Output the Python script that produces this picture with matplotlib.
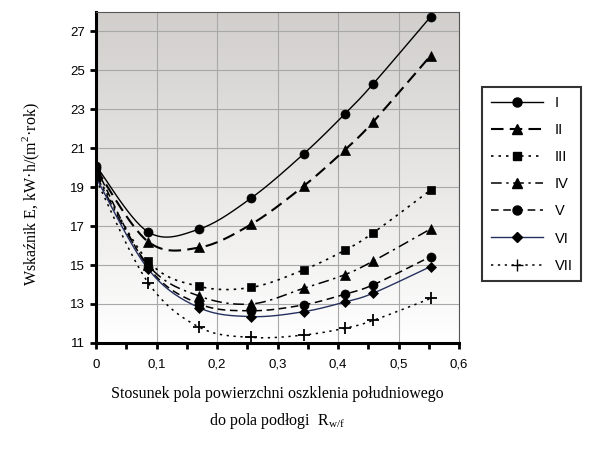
import numpy as np
import matplotlib
matplotlib.use("Agg")
import matplotlib.pyplot as plt
from matplotlib.lines import Line2D
from matplotlib.ticker import FixedLocator

# ratio of south glazing area to floor area
rwf = [0.0, 0.086, 0.171, 0.257, 0.343, 0.411, 0.458, 0.553]

labels = ["I", "II", "III", "IV", "V", "VI", "VII"]
e_I = [20.1, 16.7, 16.85, 18.45, 20.7, 22.75, 24.3, 27.75]
e_II = [19.95, 16.2, 15.9, 17.1, 19.05, 20.9, 22.35, 25.75]
e_III = [19.7, 15.2, 13.9, 13.85, 14.75, 15.75, 16.65, 18.85]
e_IV = [19.6, 15.0, 13.4, 13.0, 13.8, 14.5, 15.2, 16.85]
e_V = [20.0, 14.9, 13.0, 12.65, 12.95, 13.5, 13.98, 15.43]
e_VI = [19.5, 14.8, 12.8, 12.35, 12.6, 13.1, 13.55, 14.92]
e_VII = [19.4, 14.1, 11.8, 11.28, 11.4, 11.75, 12.15, 13.28]

x_ticks = [0.0, 0.1, 0.2, 0.3, 0.4, 0.5, 0.6]
x_ticklabels = ["0", "0,1", "0,2", "0,3", "0,4", "0,5", "0,6"]
y_ticks = [11, 13, 15, 17, 19, 21, 23, 25, 27]

series = [e_I, e_II, e_III, e_IV, e_V, e_VI, e_VII]
styles = [
    dict(ls="-", marker="o", ms=6.5, lw=1.0, color="black"),
    dict(ls=(0, (6, 3)), marker="^", ms=7, lw=1.5, color="black"),
    dict(ls=(0, (1.5, 3)), marker="s", ms=5.5, lw=1.2, color="black"),
    dict(ls=(0, (7, 3, 1.5, 3)), marker="^", ms=7, lw=1.1, color="black"),
    dict(ls=(0, (5, 3)), marker="o", ms=6.5, lw=1.1, color="black"),
    dict(ls="-", marker="D", ms=5, lw=1.0, color="#26305e"),
    dict(ls=(0, (1.5, 3)), marker="+", ms=9, lw=1.1, color="black"),
]


def smooth(x, y, n=30):
    # Catmull-Rom curve through the points (like a spreadsheet "smoothed line")
    p = np.column_stack([x, y]).astype(float)
    p = np.vstack([p[0], p, p[-1]])
    out = []
    t = np.linspace(0, 1, n)[:, None]
    for i in range(1, len(p) - 2):
        p0, p1, p2, p3 = p[i - 1], p[i], p[i + 1], p[i + 2]
        seg = 0.5 * ((2 * p1) + (-p0 + p2) * t
                     + (2 * p0 - 5 * p1 + 4 * p2 - p3) * t ** 2
                     + (-p0 + 3 * p1 - 3 * p2 + p3) * t ** 3)
        out.append(seg)
    c = np.vstack(out)
    return c[:, 0], c[:, 1]


plt.rcParams["font.family"] = ["Liberation Sans", "DejaVu Sans"]

fig = plt.figure(figsize=(6, 4.59), dpi=100)
ax = fig.add_axes([0.16, 0.253, 0.605, 0.721])

# gray-to-white background gradient
grad = np.linspace(0, 1, 256)[:, None]
top = np.array([0.82, 0.81, 0.80])
bg = top + (1 - top) * grad
ax.imshow(bg[:, None, :].repeat(2, axis=1), extent=[0, 1, 0, 1],
          transform=ax.transAxes, aspect="auto", origin="upper", zorder=0)

handles = []
for lab, ys, st in zip(labels, series, styles):
    sx, sy = smooth(rwf, ys)
    ax.plot(sx, sy, ls=st["ls"], lw=st["lw"], color=st["color"], zorder=3)
    ax.plot(rwf, ys, ls="none", marker=st["marker"], ms=st["ms"],
            color="black", mew=1.3 if st["marker"] == "+" else 0.5, zorder=4)
    handles.append(Line2D([], [], ls=st["ls"], lw=st["lw"], color=st["color"],
                          marker=st["marker"], ms=st["ms"], mfc="black",
                          mec="black", label=lab))

ax.set_xlim(0, 0.6)
ax.set_ylim(11, 28)
ax.xaxis.set_major_locator(FixedLocator(x_ticks))
ax.xaxis.set_minor_locator(FixedLocator(np.arange(0.05, 0.6, 0.1)))
ax.yaxis.set_major_locator(FixedLocator(y_ticks))
ax.set_xticklabels(x_ticklabels)
ax.grid(True, color="#a8a8a8", lw=0.8, zorder=1)
ax.set_axisbelow(True)
ax.tick_params(axis="both", which="both", direction="out", width=2,
               labelsize=9.5, colors="black")
ax.tick_params(axis="both", which="major", length=4.5)
ax.tick_params(axis="x", which="both", length=4.5, pad=7)
for s in ["left", "bottom"]:
    ax.spines[s].set_linewidth(2.2)
for s in ["top", "right"]:
    ax.spines[s].set_linewidth(0.8)
    ax.spines[s].set_color("#555555")

ax.set_xlabel("Stosunek pola powierzchni oszklenia południowego\n"
              r"do pola podłogi  R$_{\mathregular{w/f}}$",
              family="Liberation Serif", fontsize=11.5, labelpad=11,
              linespacing=1.6)
ax.set_ylabel(r"Wskaźnik E, kW·h/(m$^{\mathregular{2}}$·rok)",
              family="Liberation Serif", fontsize=11.5)
ax.yaxis.set_label_coords(-0.15, 0.45)

leg = fig.legend(handles=handles, loc="upper left",
                 bbox_to_anchor=(0.803, 0.81), borderaxespad=0,
                 fontsize=10.5, handlelength=3.6, labelspacing=0.9,
                 frameon=True, fancybox=False, borderpad=0.6)
leg.get_frame().set_edgecolor("black")
leg.get_frame().set_linewidth(1.5)

fig.savefig("out.png", dpi=100)
